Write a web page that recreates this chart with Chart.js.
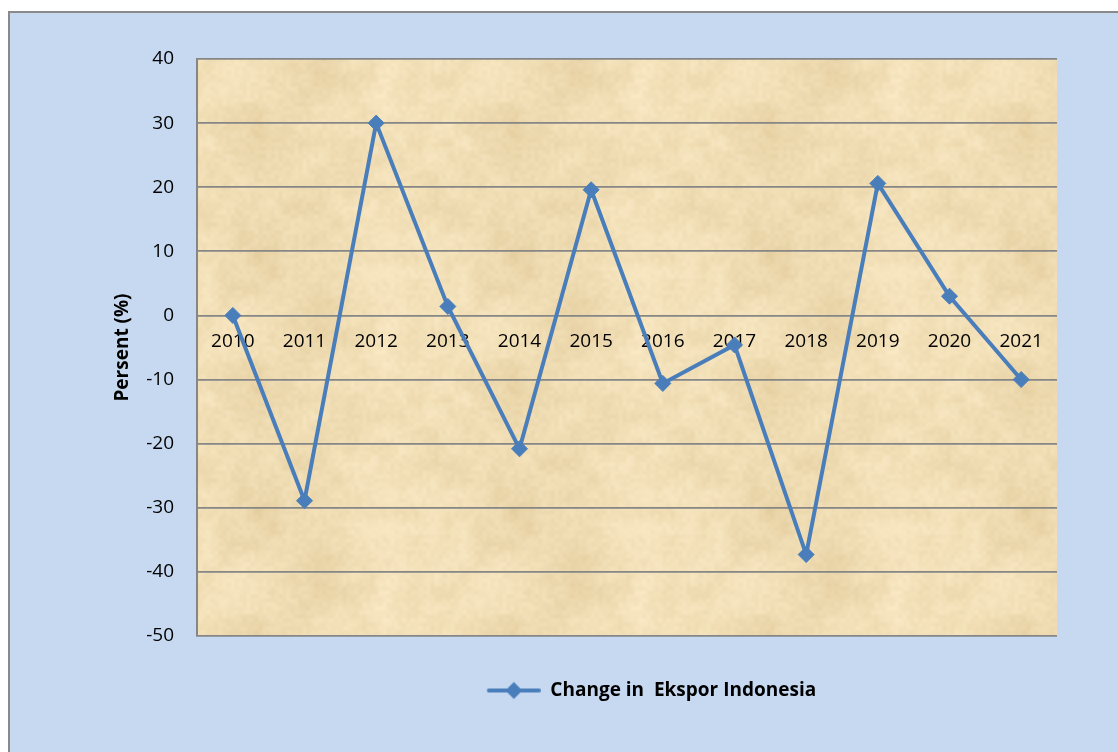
<!DOCTYPE html>
<html>
<head>
<meta charset="utf-8">
<script src="https://cdn.jsdelivr.net/npm/chart.js@4.4.0/dist/chart.umd.min.js"></script>
<style>
  html, body { margin: 0; padding: 0; background: #ffffff; }
  #frame {
    position: absolute; left: 8px; top: 11px; width: 1200px; height: 800px;
    background: #c6d9f1; border-left: 2px solid #8a8a8a; border-top: 2px solid #8a8a8a;
  }
  #wrap { position: absolute; left: 0; top: 0; width: 1118px; height: 752px; }
</style>
</head>
<body>
<div id="frame"></div>
<div id="wrap"><canvas id="chart" width="1118" height="752"></canvas></div>
<script>
var years = ["2010", "2011", "2012", "2013", "2014", "2015", "2016", "2017", "2018", "2019", "2020", "2021"];
var exportChange = [0, -28.9, 30.0, 1.4, -20.8, 19.6, -10.6, -4.6, -37.3, 20.6, 3.0, -10.0];
var seriesName = "Change in  Ekspor Indonesia";
var yTitle = "Persent (%)";

var lineColor = '#4a7ebb';
var fontFamily = "'Open Sans', 'Noto Sans', sans-serif";

// parchment-like texture for the plot area (deterministic value noise)
function makeParchment() {
	var c = document.createElement('canvas');
	c.width = 256; c.height = 256;
	var g = c.getContext('2d');
	var img = g.createImageData(256, 256);
	function hash(x, y) {
		var h = Math.sin(x * 127.1 + y * 311.7) * 43758.5453;
		return h - Math.floor(h);
	}
	function smooth(x, y, s) {
		var xi = Math.floor(x / s), yi = Math.floor(y / s);
		var fx = x / s - xi, fy = y / s - yi;
		var n = 256 / s;
		var a = hash(xi % n, yi % n), b = hash((xi + 1) % n, yi % n);
		var c1 = hash(xi % n, (yi + 1) % n), d = hash((xi + 1) % n, (yi + 1) % n);
		var ux = fx * fx * (3 - 2 * fx), uy = fy * fy * (3 - 2 * fy);
		return a + (b - a) * ux + (c1 - a) * uy + (a - b - c1 + d) * ux * uy;
	}
	for (var y = 0; y < 256; y++) {
		for (var x = 0; x < 256; x++) {
			var v = 0.45 * smooth(x, y, 64) + 0.3 * smooth(x, y, 16) + 0.25 * smooth(x, y, 4);
			var i = (y * 256 + x) * 4;
			img.data[i] = 228 + v * 24;
			img.data[i + 1] = 205 + v * 32;
			img.data[i + 2] = 158 + v * 44;
			img.data[i + 3] = 255;
		}
	}
	g.putImageData(img, 0, 0);
	return c;
}
var parchment = makeParchment();

var plotBackground = {
	id: 'plotBackground',
	beforeDraw: function(chart) {
		var a = chart.chartArea, ctx = chart.ctx;
		ctx.save();
		ctx.fillStyle = ctx.createPattern(parchment, 'repeat');
		ctx.fillRect(a.left, a.top, a.right - a.left, a.bottom - a.top);
		ctx.restore();
	}
};

// legend marker: line with a diamond, with transparent lead-in so the item sits where Excel put it
var legendFont = 'bold 19px ' + fontFamily;
var measure = document.createElement('canvas').getContext('2d');
measure.font = legendFont;
var textW = measure.measureText(seriesName).width;
var leadIn = Math.max(0, Math.round(textW - 217));
var markW = 54;
var marker = document.createElement('canvas');
marker.width = leadIn + markW; marker.height = 20;
(function() {
	var g = marker.getContext('2d');
	g.strokeStyle = lineColor; g.lineWidth = 4; g.lineCap = 'round';
	g.beginPath(); g.moveTo(leadIn + 2, 10); g.lineTo(leadIn + markW - 2, 10); g.stroke();
	var cx = leadIn + markW / 2;
	g.fillStyle = lineColor;
	g.beginPath(); g.moveTo(cx, 1.5); g.lineTo(cx + 8.5, 10); g.lineTo(cx, 18.5); g.lineTo(cx - 8.5, 10); g.closePath(); g.fill();
})();

var ctx = document.getElementById("chart").getContext('2d');
var exportChart = new Chart(ctx, {
	type: 'line',
	data: {
		labels: years,
		datasets: [{
			label: seriesName,
			data: exportChange,
			borderColor: lineColor,
			backgroundColor: lineColor,
			borderWidth: 4,
			pointStyle: 'rectRot',
			pointRadius: 8,
			pointBorderWidth: 1,
			tension: 0,
			fill: false
		}]
	},
	options: {
		responsive: false,
		animation: false,
		layout: { padding: { left: 107, right: 61, top: 59, bottom: 42 } },
		scales: {
			x: {
				position: { y: 0 },
				offset: true,
				grid: { display: false, drawTicks: false },
				border: { display: false },
				ticks: { color: '#000', font: { family: fontFamily, size: 19 }, padding: 15, maxRotation: 0 }
			},
			y: {
				min: -50,
				max: 40,
				afterFit: function(scale) { scale.width = 90; },
				grid: { color: '#868686', lineWidth: 1.8, drawTicks: false },
				border: { display: true, color: '#868686', width: 2 },
				ticks: { stepSize: 10, color: '#000', font: { family: fontFamily, size: 19 }, padding: 23 },
				title: { display: true, text: yTitle, color: '#000', font: { family: fontFamily, size: 19, weight: 'bold' }, padding: 4 }
			}
		},
		plugins: {
			tooltip: { enabled: false },
			legend: {
				position: 'bottom',
				fullSize: false,
				labels: {
					usePointStyle: true,
					pointStyleWidth: leadIn + markW,
					padding: 45,
					color: '#000',
					font: { family: fontFamily, size: 19, weight: 'bold' },
					generateLabels: function(chart) {
						return [{ text: seriesName, pointStyle: marker, fillStyle: lineColor, strokeStyle: lineColor, lineWidth: 0, datasetIndex: 0, hidden: false }];
					}
				}
			}
		}
	},
	plugins: [plotBackground]
});
</script>
</body>
</html>
